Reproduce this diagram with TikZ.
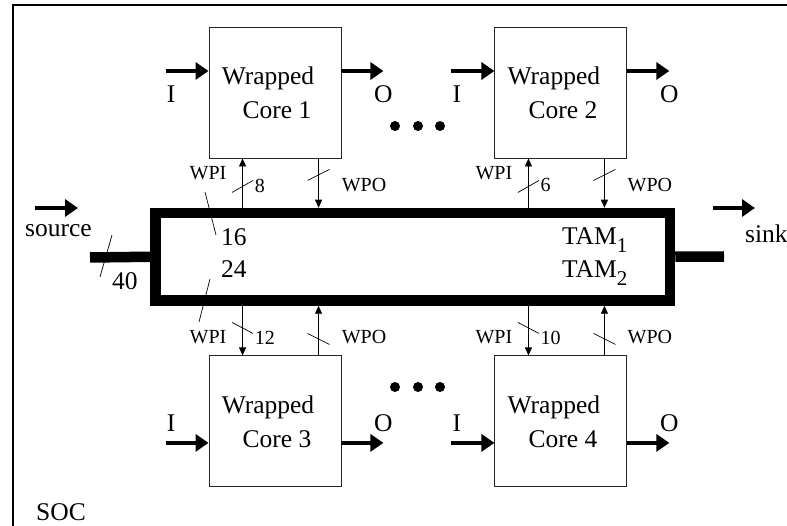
\documentclass[tikz,border=0pt]{standalone}
\usepackage{fontspec}
\setmainfont{Liberation Serif}
\usetikzlibrary{arrows.meta,positioning,calc}

\newcommand{\tamsub}[1]{\raisebox{-8pt}{\fontsize{21}{21}\selectfont #1}}

\begin{document}
\begin{tikzpicture}[x=1pt, y=-1pt, >=Stealth, font=\fontsize{25.5}{34}\selectfont]
\tikzstyle{core}=[draw=black!85,line width=0.9pt,minimum width=132pt,minimum height=131pt,inner sep=0pt,align=center]
\tikzstyle{io}=[line width=4.5pt,-{Triangle[length=13pt,width=17pt]}]
\tikzstyle{wp}=[line width=0.8pt,-{Triangle[length=8pt,width=7pt]}]
\tikzstyle{tick}=[line width=0.7pt]
\tikzstyle{sm}=[font=\fontsize{20}{24}\selectfont,inner sep=0pt]
\tikzstyle{txt}=[inner sep=0pt]
\tikzstyle{bus}=[line width=10.5pt]
\useasboundingbox (0,0) rectangle (787,526);
\clip (0,0) rectangle (787,526);
% SOC frame
\draw[line width=2pt] (13,540) -- (13,5) -- (800,5);
\node[txt,anchor=base west] (soc) at (36,520) {SOC};

% wrapped cores
\node[core] (c1) at (275,92.5) {Wrapped\hspace*{14pt}\\\hspace*{4pt}Core 1};
\node[core,right=153pt of c1] (c2) {Wrapped\hspace*{14pt}\\\hspace*{4pt}Core 2};
\node[core,below=197pt of c1] (c3) {Wrapped\hspace*{14pt}\\\hspace*{4pt}Core 3};
\node[core,right=153pt of c3] (c4) {Wrapped\hspace*{14pt}\\\hspace*{4pt}Core 4};

% TAM bus
\node[draw,bus,minimum width=514.5pt,minimum height=87.5pt,inner sep=0pt] (tam) at (412.75,256.75) {};
\coordinate (srcend) at (90,257.5);
\coordinate (snkend) at (724,256.5);
\draw[bus] (srcend) -- (tam.west);
\draw[bus] (tam.east) -- (snkend);
\draw[tick] (112,235) -- (100,277);
\draw[tick] (205,192) -- (216,235);
\draw[tick] (210,279) -- (199,322);
\node[txt,anchor=base west] (w40) at (112,290) {40};
\node[txt,anchor=base west] (w16) at (221,246) {16};
\node[txt,anchor=base west] (w24) at (221,278) {24};
\node[txt,anchor=base west] (tam1) at (562,245) {TAM\tamsub{1}};
\node[txt,anchor=base west] (tam2) at (562,278) {TAM\tamsub{2}};

% source and sink
\coordinate (srca) at (35,208);
\coordinate (srcb) at (78,208);
\draw[io] (srca) -- (srcb);
\node[txt,anchor=base west] (source) at (25,237) {source};
\coordinate (snka) at (713,208);
\coordinate (snkb) at (755,208);
\draw[io] (snka) -- (snkb);
\node[txt,anchor=base west] (sink) at (745,243) {sink};

% top cores
\foreach \cn/\w in {c1/8,c2/6}{
  \coordinate (\cn wpi) at ($(\cn.south west)+(34,0)$);
  \coordinate (\cn wpo) at ($(\cn.south west)+(110,0)$);
  \draw[wp] (tam.north -| \cn wpi) -- (\cn wpi);
  \draw[wp] (\cn wpo) -- (tam.north -| \cn wpo);
  \draw[tick] ($(\cn wpi)+(-10.5,34)$) -- ++(21,-12);
  \draw[tick] ($(\cn wpo)+(-11,22)$) -- ++(22,-11);
  \node[sm,anchor=west] (\cn width) at ($(\cn wpi)+(12,27)$) {\w};
  \node[sm,anchor=east] (\cn wpilbl) at ($(\cn wpi)+(-16,15)$) {WPI};
  \node[sm,anchor=west] (\cn wpolbl) at ($(\cn wpo)+(23,27)$) {WPO};
  \coordinate (\cn in) at ($(\cn.west)+(-43,-21.5)$);
  \coordinate (\cn out) at ($(\cn.east)+(42,-21.5)$);
  \draw[io] (\cn in) -- (\cn in -| \cn.west);
  \draw[io] (\cn out -| \cn.east) -- (\cn out);
  \node[txt,anchor=base west] (\cn ilbl) at ($(\cn in)+(1,32)$) {I};
  \node[txt,anchor=base] (\cn olbl) at ($(\cn out)+(0,32)$) {O};
}

% bottom cores
\foreach \cn/\w in {c3/12,c4/10}{
  \coordinate (\cn wpi) at ($(\cn.north west)+(34,0)$);
  \coordinate (\cn wpo) at ($(\cn.north west)+(110,0)$);
  \draw[wp] (tam.south -| \cn wpi) -- (\cn wpi);
  \draw[wp] (\cn wpo) -- (tam.south -| \cn wpo);
  \draw[tick] ($(\cn wpi)+(-10.5,-33)$) -- ++(21,11);
  \draw[tick] ($(\cn wpo)+(-11,-22)$) -- ++(22,11);
  \node[sm,anchor=west] (\cn width) at ($(\cn wpi)+(12,-18)$) {\w};
  \node[sm,anchor=east] (\cn wpilbl) at ($(\cn wpi)+(-16,-18)$) {WPI};
  \node[sm,anchor=west] (\cn wpolbl) at ($(\cn wpo)+(23,-18)$) {WPO};
  \coordinate (\cn in) at ($(\cn.west)+(-43,21.5)$);
  \coordinate (\cn out) at ($(\cn.east)+(42,21.5)$);
  \draw[io] (\cn in) -- (\cn in -| \cn.west);
  \draw[io] (\cn out -| \cn.east) -- (\cn out);
  \node[txt,anchor=base west] (\cn ilbl) at ($(\cn in)+(1,-11)$) {I};
  \node[txt,anchor=base] (\cn olbl) at ($(\cn out)+(0,-11)$) {O};
}

% dots between cores
\foreach \x in {395,418,440}{
  \fill (\x,126) circle (5pt);
  \fill (\x,387) circle (5pt);
}
\end{tikzpicture}
\end{document}
